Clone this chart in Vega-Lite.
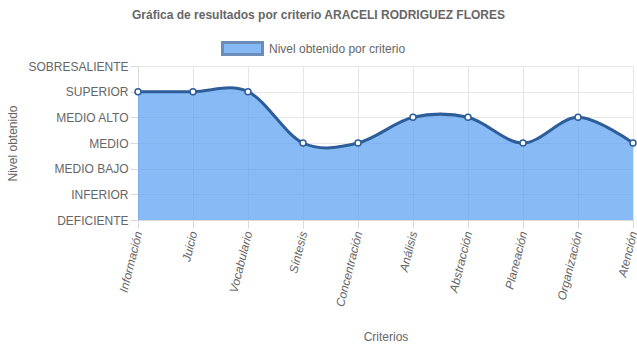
{
  "$schema": "https://vega.github.io/schema/vega-lite/v6.json",
  "width": 495,
  "height": 154,
  "autosize": {"type": "none"},
  "padding": {"left": 138, "top": 66, "right": 4, "bottom": 128},
  "background": "white",
  "title": {
    "text": "Gráfica de resultados por criterio ARACELI RODRIGUEZ FLORES",
    "font": "Liberation Sans",
    "fontSize": 12,
    "fontWeight": "bold",
    "color": "#666666",
    "anchor": "middle",
    "frame": "group",
    "dx": -67,
    "offset": 5
  },
  "config": {
    "view": {"stroke": null},
    "font": "Liberation Sans",
    "axis": {
      "labelFont": "Liberation Sans",
      "labelFontSize": 12,
      "labelColor": "#666666",
      "titleFont": "Liberation Sans",
      "titleFontSize": 12,
      "titleFontWeight": "normal",
      "titleColor": "#666666",
      "gridColor": "#e6e6e6",
      "tickColor": "#d9d9d9",
      "domainColor": "#d9d9d9",
      "tickSize": 8
    }
  },
  "data": {
    "values": [
      {"criterio": "Información", "nivel": 5},
      {"criterio": "Juicio", "nivel": 5},
      {"criterio": "Vocabulario", "nivel": 5},
      {"criterio": "Síntesis", "nivel": 3},
      {"criterio": "Concentración", "nivel": 3},
      {"criterio": "Análisis", "nivel": 4},
      {"criterio": "Abstracción", "nivel": 4},
      {"criterio": "Planeación", "nivel": 3},
      {"criterio": "Organización", "nivel": 4},
      {"criterio": "Atención", "nivel": 3}
    ]
  },
  "encoding": {
    "x": {
      "field": "criterio",
      "type": "nominal",
      "sort": null,
      "scale": {"type": "point", "padding": 0},
      "axis": {
        "title": "Criterios",
        "labelAngle": -76,
        "labelAlign": "right",
        "labelBaseline": "middle",
        "labelFontStyle": "italic",
        "labelPadding": 3,
        "grid": true,
        "titleY": 116,
        "titleBaseline": "middle"
      }
    },
    "y": {
      "field": "nivel",
      "type": "quantitative",
      "scale": {"domain": [0, 6], "nice": false, "zero": true},
      "axis": {
        "title": "Nivel obtenido",
        "values": [0, 1, 2, 3, 4, 5, 6],
        "labelExpr": "['DEFICIENTE','INFERIOR','MEDIO BAJO','MEDIO','MEDIO ALTO','SUPERIOR','SOBRESALIENTE'][datum.value]",
        "labelPadding": 2,
        "grid": true,
        "titleX": -126,
        "titleY": 77,
        "titleAngle": -90,
        "titleAlign": "center",
        "titleBaseline": "middle"
      }
    }
  },
  "layer": [
    {
      "mark": {"type": "area", "interpolate": "cardinal", "opacity": 0.7},
      "encoding": {
        "color": {
          "datum": "Nivel obtenido por criterio",
          "type": "nominal",
          "scale": {"range": ["#559CF2"]},
          "legend": {
            "title": null,
            "orient": "none",
            "legendX": 83,
            "legendY": -39,
            "symbolType": "M-1,-0.3L1,-0.3L1,0.3L-1,0.3Z",
            "symbolSize": 1600,
            "symbolStrokeColor": "#2E5E9A",
            "symbolStrokeWidth": 3,
            "labelFont": "Liberation Sans",
            "labelFontSize": 12,
            "labelColor": "#666666",
            "labelOffset": 5
          }
        }
      }
    },
    {
      "mark": {"type": "line", "interpolate": "cardinal", "color": "#2E5E9A", "strokeWidth": 3}
    },
    {
      "mark": {"type": "point", "filled": true, "fill": "white", "stroke": "#2E5E9A", "strokeWidth": 1.5, "size": 36, "opacity": 1}
    }
  ]
}
